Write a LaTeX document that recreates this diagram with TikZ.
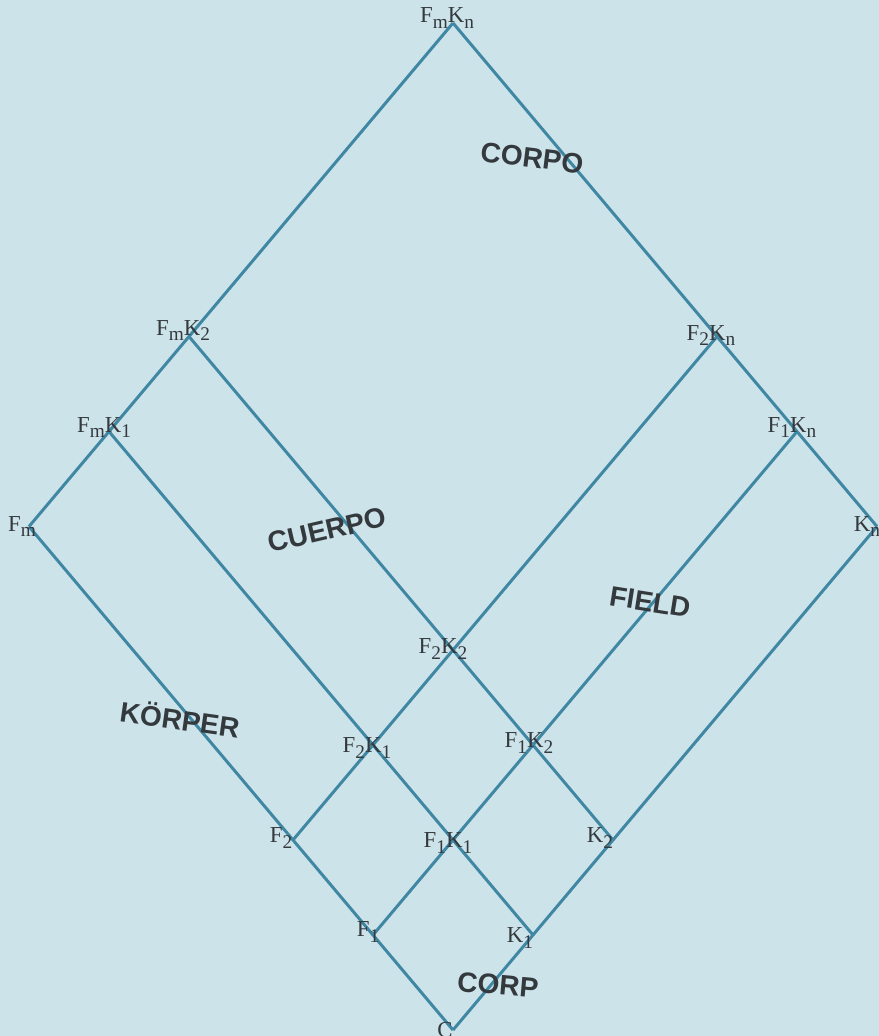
\documentclass[tikz,border=0pt]{standalone}
\usepackage{fontspec}
\setmainfont{Liberation Serif}
\setsansfont{Liberation Sans}
\usetikzlibrary{calc}
\definecolor{paper}{HTML}{CDE3EA}
\definecolor{lattice}{HTML}{3F87A3}
\definecolor{ink}{HTML}{33393D}
\newcommand\lsub[1]{\raisebox{-3pt}{\fontsize{11pt}{11pt}\selectfont #1}}
\newcommand\fk[2]{F\lsub{#1}K\lsub{#2}}
\begin{document}
\begin{tikzpicture}[
        x=0.02cm, y=-0.02cm,
        edge/.style={draw=lattice, line width=1.7pt},
        vlabel/.style={text=ink, inner sep=0pt,
        font=\fontsize{13pt}{13pt}\selectfont},
        word/.style={text=ink, inner sep=0pt,
        font=\sffamily\bfseries\fontsize{16pt}{16pt}\selectfont}
      ]
    \fill[paper] (0,0) rectangle (879,1036);
    \useasboundingbox (0,0) rectangle (879,1036);
    % vertices: F index \f, K index \k
    \foreach \f/\fpos in {0/0,1/1,2/2,m/5.3}
      \foreach \k/\kpos in {0/0,1/1,2/2,n/5.3}
        \coordinate (v\f-\k) at ({453-80*\fpos+80*\kpos}, {1030-95*\fpos-95*\kpos});
    \foreach \f in {0,1,2,m}
      \draw[edge] (v\f-0) -- (v\f-n);
    \foreach \k in {0,1,2,n}
      \draw[edge] (v0-\k) -- (vm-\k);
    % vertex labels
    \node[vlabel] (lC) at ($(v0-0)+(-8,0)$) {C};
    \node[vlabel] (lF1) at ($(v1-0)+(-5,-3)$) {F\lsub{1}};
    \node[vlabel] (lF2) at ($(v2-0)+(-12,-2)$) {F\lsub{2}};
    \node[vlabel] (lFm) at ($(vm-0)+(-7,0)$) {F\lsub{m}};
    \node[vlabel] (lK1) at ($(v0-1)+(-13,3)$) {K\lsub{1}};
    \node[vlabel] (lK2) at ($(v0-2)+(-13,-2)$) {K\lsub{2}};
    \node[vlabel] (lKn) at ($(v0-n)+(-10,0)$) {K\lsub{n}};
    \node[vlabel] (lF1K1) at ($(v1-1)+(-5,3)$) {\fk{1}{1}};
    \node[vlabel] (lF2K1) at ($(v2-1)+(-6,3)$) {\fk{2}{1}};
    \node[vlabel] (lF1K2) at ($(v1-2)+(-4,-2)$) {\fk{1}{2}};
    \node[vlabel] (lF2K2) at ($(v2-2)+(-10,-1)$) {\fk{2}{2}};
    \node[vlabel] (lFmK1) at ($(vm-1)+(-5,-4)$) {\fk{m}{1}};
    \node[vlabel] (lFmK2) at ($(vm-2)+(-6,-6)$) {\fk{m}{2}};
    \node[vlabel] (lF1Kn) at ($(v1-n)+(-5,-4)$) {\fk{1}{n}};
    \node[vlabel] (lF2Kn) at ($(v2-n)+(-6,-1)$) {\fk{2}{n}};
    \node[vlabel] (lFmKn) at ($(vm-n)+(-6,-5)$) {\fk{m}{n}};
    % field names
    \node[word, rotate=-7] (corpo) at (532,158) {CORPO};
    \node[word, rotate=13] (cuerpo) at (327,530) {CUERPO};
    \node[word, rotate=-9] (field) at (650,602) {FIELD};
    \node[word, rotate=-8] (korper) at (180,718) {KÖRPER};
    \node[word, rotate=-5] (corp) at (498,985) {CORP};
      \end{tikzpicture}
\end{document}
